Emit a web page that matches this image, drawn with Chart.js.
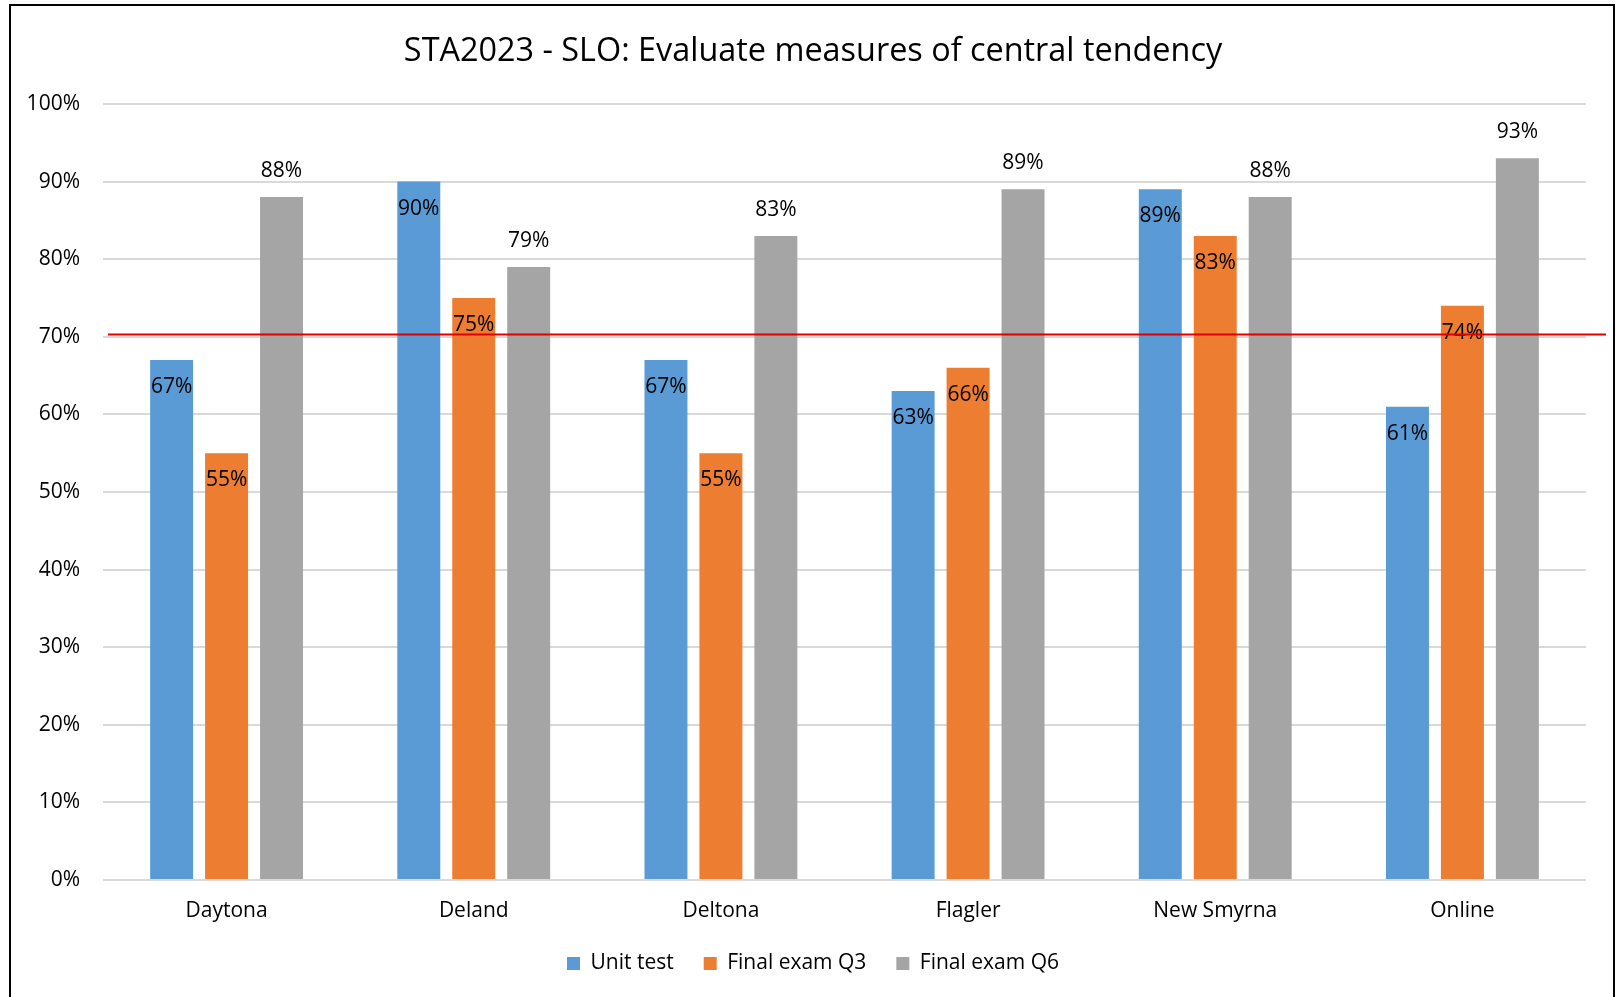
<!DOCTYPE html>
<html>
<head>
<meta charset="utf-8">
<title>STA2023 - SLO</title>
<script src="https://cdn.jsdelivr.net/npm/chart.js@4"></script>
<style>
    html, body { margin: 0; padding: 0; background: #fff; }
    #wrap { width: 1616px; height: 997px; }
</style>
</head>
<body>
<div id="wrap"><canvas id="sloChart" width="1616" height="997"></canvas></div>
<script>
// ===== Veri =====
const CAMPUSES = ['Daytona', 'Deland', 'Deltona', 'Flagler', 'New Smyrna', 'Online'];
const UNIT_TEST = [67, 90, 67, 63, 89, 61];
const FINAL_Q3 = [55, 75, 55, 66, 83, 74];
const FINAL_Q6 = [88, 79, 83, 89, 88, 93];
const Y_TICKS = [0, 10, 20, 30, 40, 50, 60, 70, 80, 90, 100];
const TARGET = 70.3; // kirmizi hedef cizgisi

const FONT = "'Open Sans', 'Noto Sans', sans-serif";

// Bar ustu / ici yuzde etiketleri
const valueLabels = {
    id: 'valueLabels',
    afterDatasetsDraw(chart) {
        const ctx = chart.ctx;
        ctx.save();
        ctx.font = '21px ' + FONT;
        ctx.fillStyle = '#000';
        ctx.textAlign = 'center';
        ctx.textBaseline = 'middle';
        chart.data.datasets.forEach((ds, i) => {
            const meta = chart.getDatasetMeta(i);
            meta.data.forEach((bar, j) => {
                const outside = ds.labelPos === 'outside';
                const y = outside ? bar.y - 26 : bar.y + 27;
                ctx.fillText(ds.data[j] + '%', bar.x, y);
            });
        });
        ctx.restore();
    }
};

// Hedef cizgisi + cerceve
const targetLine = {
    id: 'targetLine',
    afterDraw(chart) {
        const ctx = chart.ctx;
        const y = chart.scales.y.getPixelForValue(TARGET);
        ctx.save();
        ctx.strokeStyle = '#e00000';
        ctx.lineWidth = 2;
        ctx.beginPath();
        ctx.moveTo(108, y);
        ctx.lineTo(1606, y);
        ctx.stroke();

        // dis cerceve
        ctx.strokeStyle = '#000';
        ctx.lineWidth = 2;
        ctx.beginPath();
        ctx.moveTo(10, 997);
        ctx.lineTo(10, 5);
        ctx.lineTo(1614, 5);
        ctx.lineTo(1614, 997);
        ctx.stroke();
        ctx.restore();
    }
};

const whiteBg = {
    id: 'whiteBg',
    beforeDraw(chart) {
        const ctx = chart.ctx;
        ctx.save();
        ctx.fillStyle = '#fff';
        ctx.fillRect(0, 0, chart.width, chart.height);
        ctx.restore();
    }
};

function init() {
    const ctx = document.getElementById('sloChart').getContext('2d');
    Chart.defaults.font.family = FONT;
    Chart.defaults.color = '#000';

    new Chart(ctx, {
        type: 'bar',
        data: {
            labels: CAMPUSES,
            datasets: [
                { label: 'Unit test', data: UNIT_TEST, backgroundColor: '#5b9bd5', labelPos: 'inside' },
                { label: 'Final exam Q3', data: FINAL_Q3, backgroundColor: '#ed7d31', labelPos: 'inside' },
                { label: 'Final exam Q6', data: FINAL_Q6, backgroundColor: '#a5a5a5', labelPos: 'outside' }
            ]
        },
        options: {
            responsive: false,
            animation: false,
            devicePixelRatio: 1,
            categoryPercentage: 0.667,
            barPercentage: 0.782,
            layout: { padding: { left: 10, right: 0, top: 0, bottom: 13 } },
            plugins: {
                title: {
                    display: true,
                    text: 'STA2023 - SLO: Evaluate measures of central tendency',
                    color: '#000',
                    font: { size: 32.4, weight: 'normal', lineHeight: 1.2 },
                    padding: { top: 32.5, bottom: 32.6 }
                },
                legend: {
                    position: 'bottom',
                    maxHeight: 76,
                    labels: {
                        boxWidth: 13,
                        boxHeight: 13,
                        padding: 30,
                        color: '#000',
                        font: { size: 21 }
                    }
                },
                tooltip: { enabled: false }
            },
            scales: {
                x: {
                    grid: { display: false, drawTicks: false },
                    border: { display: false },
                    ticks: { padding: 18.4, font: { size: 21 }, color: '#000' },
                    afterFit: s => { s.height = 43; }
                },
                y: {
                    min: 0,
                    max: 100,
                    afterBuildTicks: s => { s.ticks = Y_TICKS.map(v => ({ value: v })); },
                    grid: { color: '#d9d9d9', lineWidth: 2, drawTicks: false },
                    border: { display: false },
                    ticks: {
                        padding: 23,
                        font: { size: 21 },
                        color: '#000',
                        callback: v => v + '%'
                    },
                    afterFit: s => { s.width = 93; }
                },
                y2: {
                    position: 'right',
                    display: true,
                    grid: { display: false, drawTicks: false },
                    border: { display: false },
                    ticks: { display: false },
                    afterFit: s => { s.width = 30; }
                }
            }
        },
        plugins: [whiteBg, valueLabels, targetLine]
    });
}

document.addEventListener('DOMContentLoaded', init);
</script>
</body>
</html>
